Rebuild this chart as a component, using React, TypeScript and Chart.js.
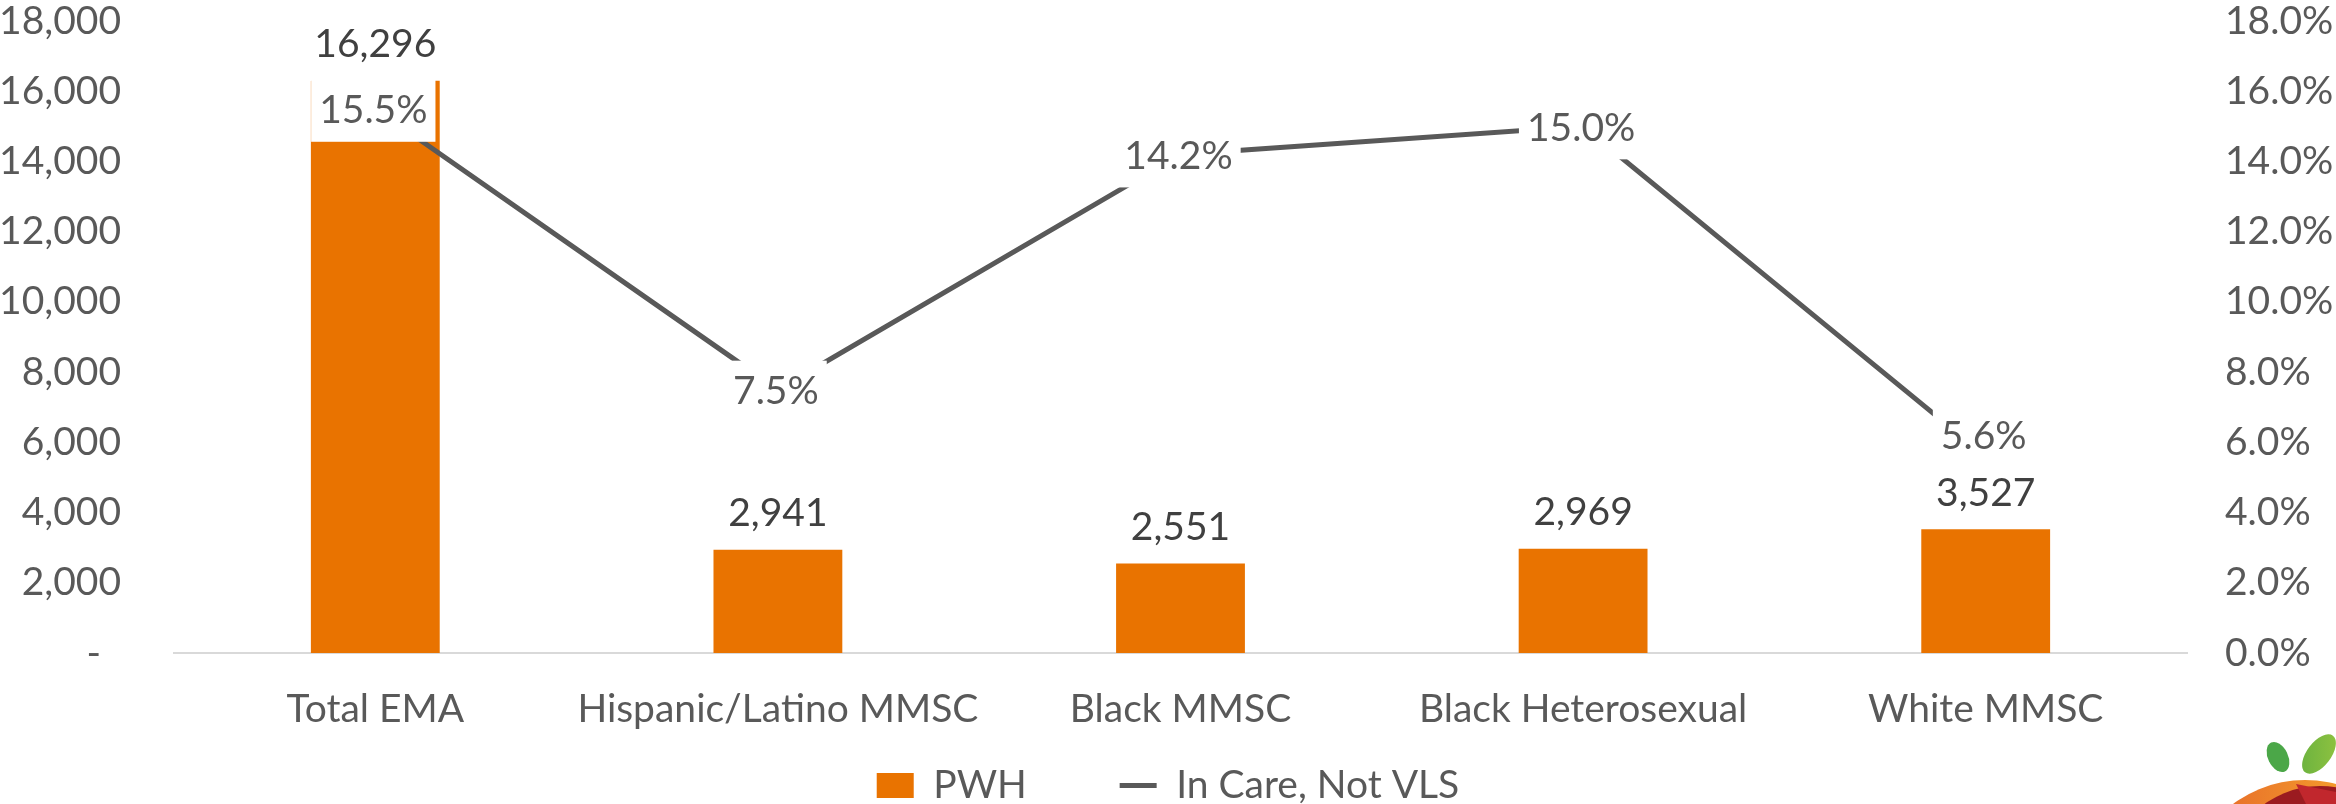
import React, { useEffect, useRef } from 'react';
import { Chart, registerables } from 'chart.js';

Chart.register(...registerables);

const categories = ['Total EMA', 'Hispanic/Latino MMSC', 'Black MMSC', 'Black Heterosexual', 'White MMSC'];
const pwhValues = [16296, 2941, 2551, 2969, 3527];
const notVlsValues = [0.155, 0.075, 0.142, 0.15, 0.056];
const seriesNames = ['PWH', 'In Care, Not VLS'];
const leftAxisMax = 18000;
const leftAxisStep = 2000;
const rightAxisMax = 0.18;
const rightAxisStep = 0.02;

const FONT = 'Lato';
const FS = 39;
const ORANGE = '#E97300';
const GREY = '#595959';

const labelPlugin = {
  id: 'valueLabels',
  afterDatasetsDraw(chart: any) {
    const ctx = chart.ctx;
    const barMeta = chart.getDatasetMeta(0);
    const lineMeta = chart.getDatasetMeta(1);
    ctx.save();
    ctx.font = `${FS}px ${FONT}`;
    ctx.textAlign = 'center';
    ctx.textBaseline = 'middle';
    const barLabelY: number[] = [];
    barMeta.data.forEach((el: any, i: number) => {
      const y = el.y - 36;
      barLabelY[i] = y;
      ctx.fillStyle = '#404040';
      ctx.fillText(pwhValues[i].toLocaleString('en-US'), el.x, y);
    });
    lineMeta.data.forEach((pt: any, i: number) => {
      const text = (notVlsValues[i] * 100).toFixed(1) + '%';
      const w = ctx.measureText(text).width + 16;
      const h = 62;
      let cy = pt.y + 2;
      const limit = barLabelY[i] - 26;
      if (cy + h / 2 > limit && cy - h / 2 < barLabelY[i] + 20) cy = limit - h / 2;
      ctx.fillStyle = '#ffffff';
      ctx.fillRect(pt.x - w / 2 - 2, cy - h / 2, w, h);
      ctx.fillStyle = GREY;
      ctx.fillText(text, pt.x - 2, cy);
    });
    ctx.restore();
  },
};

const logoPlugin = {
  id: 'cornerLogo',
  afterDraw(chart: any) {
    const ctx = chart.ctx;
    const W = chart.width;
    const H = chart.height;
    ctx.save();
    const g = ctx.createLinearGradient(W - 110, 0, W, 0);
    g.addColorStop(0, '#E8702A');
    g.addColorStop(1, '#F39A2C');
    ctx.fillStyle = g;
    ctx.beginPath();
    ctx.arc(W - 31, H + 96, 120, 0, Math.PI * 2);
    ctx.fill();
    ctx.fillStyle = '#9B1B20';
    ctx.beginPath();
    ctx.arc(W - 16, H + 76, 94, 0, Math.PI * 2);
    ctx.fill();
    ctx.fillStyle = '#C1272D';
    ctx.beginPath();
    ctx.moveTo(W - 40, H - 20);
    ctx.lineTo(W, H - 12);
    ctx.lineTo(W, H);
    ctx.lineTo(W - 30, H);
    ctx.closePath();
    ctx.fill();
    ctx.fillStyle = '#4BA748';
    ctx.beginPath();
    ctx.ellipse(W - 58, H - 47, 10, 16, -0.45, 0, Math.PI * 2);
    ctx.fill();
    const lg = ctx.createLinearGradient(W - 35, 0, W, 0);
    lg.addColorStop(0, '#6DB33F');
    lg.addColorStop(1, '#8CC140');
    ctx.fillStyle = lg;
    ctx.beginPath();
    ctx.ellipse(W - 17, H - 50, 12, 23, 0.65, 0, Math.PI * 2);
    ctx.fill();
    ctx.restore();
  },
};

const LEGEND_H = 63;

export default function App() {
  const canvasRef = useRef<HTMLCanvasElement | null>(null);

  useEffect(() => {
    document.body.style.margin = '0';
    const canvas = canvasRef.current;
    if (!canvas) return;
    const chart = new Chart(canvas, {
      type: 'bar',
      data: {
        labels: categories,
        datasets: [
          {
            type: 'bar',
            label: seriesNames[0],
            data: pwhValues,
            backgroundColor: ORANGE,
            borderWidth: 0,
            barPercentage: 0.32,
            categoryPercentage: 1,
            yAxisID: 'y',
            order: 2,
            pointStyle: 'rect',
          } as any,
          {
            type: 'line',
            label: seriesNames[1],
            data: notVlsValues,
            borderColor: GREY,
            backgroundColor: GREY,
            borderWidth: 5,
            borderCapStyle: 'round',
            pointRadius: 0,
            pointStyle: 'line',
            tension: 0,
            yAxisID: 'y1',
            order: 1,
          } as any,
        ],
      },
      options: {
        responsive: false,
        animation: false,
        devicePixelRatio: 1,
        layout: { padding: { top: 21, left: 0, right: 0, bottom: 0 } },
        plugins: {
          tooltip: { enabled: false },
          legend: {
            position: 'bottom',
            maxHeight: LEGEND_H,
            labels: {
              usePointStyle: true,
              pointStyleWidth: 37,
              boxHeight: 25,
              padding: 25,
              color: GREY,
              font: { family: FONT, size: FS },
              sort: (a: any, b: any) => a.datasetIndex - b.datasetIndex,
              generateLabels: (c: any) => {
                const items = Chart.defaults.plugins.legend.labels.generateLabels(c);
                items.forEach((it: any) => {
                  if (it.datasetIndex === 0) it.text = it.text + '\u2007\u2007\u2007';
                });
                return items;
              },
            },
          },
        },
        scales: {
          x: {
            type: 'category',
            offset: true,
            grid: { display: false, drawTicks: false },
            border: { display: true, color: '#D9D9D9', width: 2 },
            ticks: {
              color: GREY,
              font: { family: FONT, size: FS },
              padding: 33,
              maxRotation: 0,
              autoSkip: false,
            },
            afterFit: (s: any) => {
              s.height = 804 - LEGEND_H - 653;
            },
          },
          y: {
            position: 'left',
            min: 0,
            max: leftAxisMax,
            grid: { display: false, drawTicks: true, tickLength: 53 },
            border: { display: false },
            ticks: {
              stepSize: leftAxisStep,
              color: GREY,
              font: { family: FONT, size: FS, lineHeight: 1.0 },
              padding: 0,
              callback: (v: any) => (Number(v) === 0 ? '-  ' : Number(v).toLocaleString('en-US')),
            },
            afterFit: (s: any) => {
              s.width = 174;
            },
          },
          y1: {
            position: 'right',
            min: 0,
            max: rightAxisMax,
            grid: { display: false, drawTicks: true, tickLength: 38 },
            border: { display: false },
            ticks: {
              stepSize: rightAxisStep,
              color: GREY,
              font: { family: FONT, size: FS, lineHeight: 1.0 },
              padding: 0,
              callback: (v: any) => (Number(v) * 100).toFixed(1) + '%',
            },
            afterFit: (s: any) => {
              s.width = 2336 - 2187;
            },
          },
        },
      } as any,
      plugins: [labelPlugin, logoPlugin],
    });
    return () => chart.destroy();
  }, []);

  return (
    <div style={{ width: 2336, height: 804, position: 'relative', background: '#fff' }}>
      <canvas ref={canvasRef} width={2336} height={804} style={{ display: 'block' }} />
    </div>
  );
}
